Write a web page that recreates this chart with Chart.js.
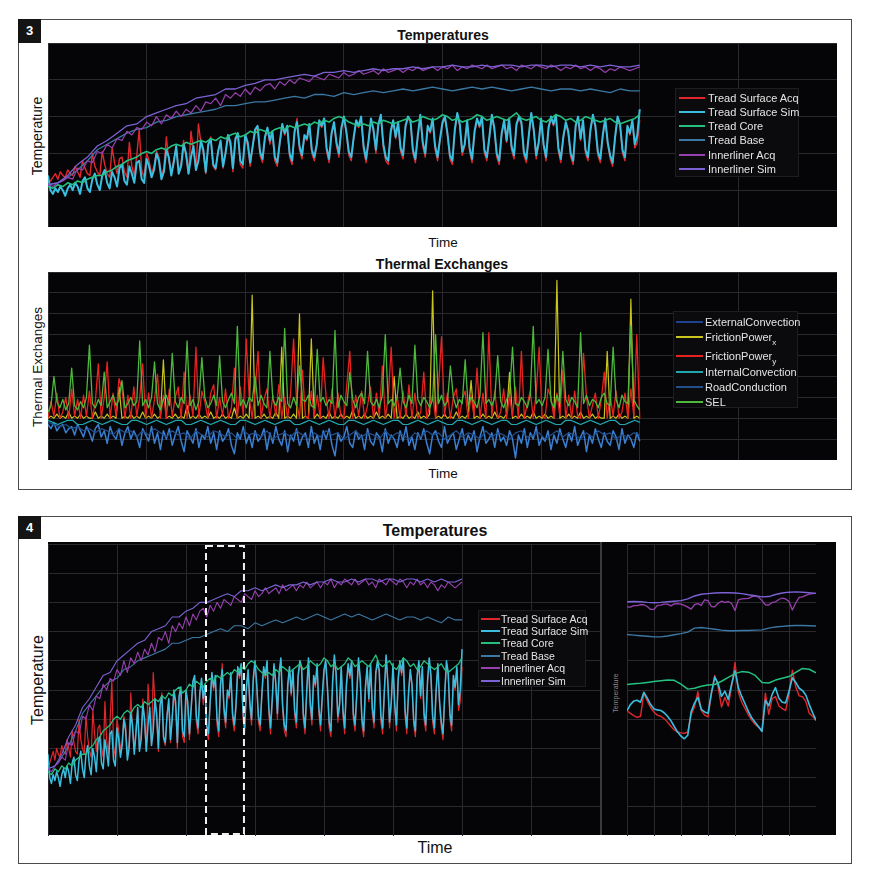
<!DOCTYPE html>
<html>
<head>
<meta charset="utf-8">
<script src="https://cdn.jsdelivr.net/npm/chart.js@4.4.1/dist/chart.umd.min.js"></script>
<style>
	body { margin: 0; background: #fff; font-family: 'Liberation Sans', Arial, sans-serif; }
	#page { position: relative; width: 871px; height: 879px; overflow: hidden; }
	.panel { position: absolute; box-sizing: border-box; border: 1px solid #4a4a4a; }
	.tag { position: absolute; background: #141414; color: #fff; font-weight: bold; font-size: 13px; text-align: center; }
	.dark { position: absolute; background: #050507; }
	canvas { position: absolute; }
	.txt { position: absolute; color: #111; white-space: nowrap; transform: translate(-50%, -50%); }
	.rot { transform: translate(-50%, -50%) rotate(-90deg); }
	.bold { font-weight: bold; }
	.legend { position: absolute; box-sizing: border-box; background: #0b0b0d; border: 1px solid #1e1e22; }
	.lrow { position: absolute; display: flex; align-items: center; color: #e4e4e4; white-space: nowrap; }
	.sw { display: inline-block; height: 2px; flex: none; }
	sub { font-size: 8px; line-height: 0; vertical-align: -4px; }
</style>
</head>
<body>
<div id="page">
	<div class="panel" style="left:18px;top:19px;width:834px;height:471px"></div>
	<div class="tag" style="left:18px;top:19px;width:23px;height:24px;line-height:24px">3</div>

	<div class="txt bold" style="left:443px;top:35px;font-size:14px">Temperatures</div>
	<div class="dark" style="left:48px;top:43px;width:789px;height:184px"></div>
	<canvas id="temps3" width="789" height="184" style="left:48px;top:43px"></canvas>
	<div class="txt" style="left:443px;top:242px;font-size:13.5px">Time</div>
	<div class="txt rot" style="left:37px;top:136px;font-size:14px">Temperature</div>
	<div class="legend" id="leg1" style="left:675px;top:88px;width:124px;height:89px;font-size:11px"></div>

	<div class="txt bold" style="left:442px;top:264px;font-size:14px">Thermal Exchanges</div>
	<div class="dark" style="left:48px;top:272px;width:789px;height:188px"></div>
	<canvas id="thermal" width="789" height="188" style="left:48px;top:272px"></canvas>
	<div class="txt" style="left:443px;top:473px;font-size:13.5px">Time</div>
	<div class="txt rot" style="left:37px;top:367px;font-size:13.5px">Thermal Exchanges</div>
	<div class="legend" id="leg2" style="left:673px;top:311px;width:125px;height:97px;font-size:11px"></div>

	<div class="panel" style="left:18px;top:516px;width:834px;height:348px"></div>
	<div class="tag" style="left:18px;top:516px;width:23px;height:23px;line-height:23px">4</div>
	<div class="txt bold" style="left:435px;top:531px;font-size:16px">Temperatures</div>
	<div class="dark" style="left:48px;top:542px;width:788px;height:293px"></div>
	<canvas id="temps4" width="552" height="292" style="left:48px;top:544px"></canvas>
	<div class="dark" style="left:600px;top:542px;width:2px;height:293px;background:#3a3a3c"></div>
	<canvas id="inset" width="189" height="292" style="left:627px;top:544px"></canvas>
	<div class="txt rot" style="left:615px;top:693px;font-size:7px;color:#8a8a8a">Temperature</div>
	<div class="legend" id="leg3" style="left:478px;top:610px;width:108px;height:77px;font-size:10.5px"></div>
	<div class="txt" style="left:435px;top:848px;font-size:16px">Time</div>
	<div class="txt rot" style="left:38px;top:680px;font-size:16px">Temperature</div>
</div>

<script>
// Temperatures (0-100 scale), time axis 0..6 in plot units
const tempLabels = ['Tread Surface Acq', 'Tread Surface Sim', 'Tread Core', 'Tread Base', 'Innerliner Acq', 'Innerliner Sim']
const tempColors = ['#e0282c', '#3bbfe0', '#25c080', '#3b78a3', '#9840b0', '#7c62d4']

const treadSurfaceAcq = [
	24, 25, 27, 29, 26, 30, 28, 27, 31, 29,
	28, 33, 30, 27, 36, 32, 29, 28, 40, 33,
	30, 28, 41, 34, 29, 27, 43, 35, 29, 37,
	38, 30, 27, 46, 33, 28, 39, 53, 31, 27,
	40, 36, 29, 33, 41, 38, 28, 32, 49, 36,
	29, 37, 43, 30, 35, 47, 38, 29, 52, 42,
	31, 56, 46, 40, 29, 44, 49, 33, 31, 42,
	46, 32, 41, 49, 44, 30, 47, 50, 34, 32,
	49, 44, 33, 43, 52, 54, 39, 35, 48, 53,
	45, 51, 36, 33, 45, 55, 50, 54, 38, 34,
	51, 59, 42, 37, 49, 47, 55, 40, 36, 44,
	57, 54, 58, 41, 35, 50, 56, 44, 38, 53,
	59, 51, 39, 36, 48, 57, 54, 59, 42, 35,
	46, 58, 52, 40, 55, 60, 43, 36, 34, 51,
	57, 48, 56, 41, 37, 54, 59, 57, 40, 35,
	49, 60, 44, 38, 54, 51, 58, 42, 36, 47,
	56, 59, 50, 37, 34, 52, 61, 55, 39, 44,
	57, 41, 35, 51, 58, 54, 59, 40, 36, 48,
	60, 53, 38, 34, 50, 57, 46, 58, 42, 37,
	55, 59, 56, 39, 35, 49, 61, 52, 37, 45,
	58, 44, 36, 53, 59, 55, 60, 41, 35, 48,
	56, 51, 38, 34, 54, 59, 47, 57, 40, 36,
	52, 60, 54, 39, 35, 49, 58, 45, 37, 33,
	48, 59, 55, 40, 36, 54, 50, 57, 43, 46,
	58
]
const treadSurfaceSim = [
	28, 20, 18, 21, 19, 22, 20, 17, 21, 23,
	20, 24, 22, 18, 25, 27, 21, 19, 26, 29,
	23, 20, 28, 31, 24, 21, 30, 27, 22, 32,
	34, 25, 23, 33, 29, 24, 35, 36, 26, 24,
	37, 33, 27, 31, 40, 36, 26, 30, 42, 38,
	28, 35, 44, 29, 33, 45, 40, 29, 38, 44,
	31, 36, 47, 42, 30, 45, 48, 34, 32, 41,
	47, 33, 40, 50, 46, 32, 48, 51, 36, 34,
	50, 46, 35, 44, 53, 55, 41, 37, 49, 54,
	47, 52, 38, 35, 46, 56, 51, 55, 40, 36,
	52, 57, 44, 39, 50, 48, 56, 42, 38, 45,
	58, 55, 59, 43, 37, 51, 57, 46, 40, 54,
	60, 52, 41, 38, 49, 58, 55, 60, 44, 37,
	47, 59, 53, 42, 56, 61, 45, 38, 36, 52,
	58, 49, 57, 43, 39, 55, 60, 58, 42, 37,
	50, 61, 46, 40, 55, 52, 59, 44, 38, 48,
	57, 60, 51, 39, 36, 53, 62, 56, 41, 45,
	58, 43, 37, 52, 59, 55, 60, 42, 38, 49,
	61, 54, 40, 36, 51, 58, 47, 59, 44, 39,
	56, 60, 57, 41, 37, 50, 62, 53, 39, 46,
	59, 45, 38, 54, 60, 56, 61, 43, 37, 49,
	57, 52, 40, 36, 55, 60, 48, 58, 42, 38,
	53, 61, 55, 41, 37, 50, 59, 46, 39, 35,
	49, 60, 56, 42, 38, 55, 51, 58, 45, 50,
	64
]
const treadCore = [
	22, 21, 23, 22, 24, 23, 25, 24, 26, 27,
	28, 28, 30, 31, 33, 34, 36, 37, 38, 40,
	41, 40, 42, 43, 42, 44, 45, 44, 46, 45,
	46, 47, 46, 48, 47, 49, 48, 50, 51, 49,
	50, 52, 51, 53, 52, 51, 53, 54, 53, 55,
	54, 55, 56, 55, 57, 56, 58, 57, 59, 60,
	59, 57, 56, 55, 56, 55, 57, 56, 58, 57,
	56, 57, 58, 59, 57, 58, 60, 59, 58, 59,
	61, 60, 58, 59, 57, 58, 59, 61, 60, 58,
	59, 60, 59, 58, 60, 62, 59, 58, 59, 60,
	58, 57, 59, 61, 60, 58, 59, 57, 58, 60,
	59, 58, 57, 58, 59, 57, 56, 57, 58, 59,
	61
]
const treadBase = [
	23, 24, 27, 31, 36, 42, 45, 48, 51, 53,
	54, 57, 58, 60, 61, 62, 63, 64, 66, 66,
	67, 68, 68, 69, 70, 71, 70, 72, 72, 71,
	73, 72, 73, 74, 73, 74, 75, 74, 75, 76,
	75, 74, 75, 76, 75, 76, 75, 74, 75, 76,
	75, 74, 75, 75, 74, 75, 74, 73, 75, 74,
	74
]
const innerlinerAcq = [
	23, 22, 24, 25, 27, 26, 32, 31, 36, 35,
	41, 40, 45, 43, 48, 47, 52, 50, 54, 53,
	57, 55, 60, 56, 61, 59, 63, 60, 64, 62,
	66, 63, 68, 67, 70, 66, 72, 70, 73, 71,
	75, 72, 76, 74, 77, 78, 75, 79, 77, 80,
	78, 81, 80, 79, 82, 81, 80, 83, 82, 81,
	84, 82, 83, 85, 83, 84, 85, 83, 86, 84,
	85, 86, 84, 86, 85, 87, 85, 86, 87, 85,
	87, 86, 88, 85, 87, 86, 88, 87, 86, 88,
	86, 87, 88, 86, 87, 85, 88, 87, 86, 88,
	87, 86, 88, 87, 85, 87, 86, 88, 86, 87,
	85, 87, 86, 84, 86, 85, 87, 86, 85, 86,
	87
]
const innerlinerSim = [
	23, 24, 28, 34, 38, 44, 47, 51, 55, 56,
	60, 62, 64, 66, 67, 70, 71, 72, 75, 75,
	77, 78, 80, 80, 81, 82, 83, 82, 84, 84,
	85, 84, 85, 86, 85, 86, 86, 87, 86, 87,
	87, 88, 87, 87, 88, 87, 88, 88, 87, 88,
	88, 87, 88, 88, 87, 88, 87, 88, 87, 87,
	88
]
const tempSteps = [0.025, 0.025, 0.05, 0.1, 0.05, 0.1]
const tempSeries = [treadSurfaceAcq, treadSurfaceSim, treadCore, treadBase, innerlinerAcq, innerlinerSim]

// Thermal exchanges (-20..70 scale)
const thermalLabels = ['ExternalConvection', 'FrictionPower<sub>x</sub>', 'FrictionPower<sub>y</sub>', 'InternalConvection', 'RoadConduction', 'SEL']
const thermalColors = ['#3a7fd0', '#c9c41e', '#e8231f', '#1fa7ad', '#234f8c', '#4cb83c']
const thermalSwatch = ['#1f4290', '#c9c41e', '#e8231f', '#1fa7ad', '#234f8c', '#4cb83c']

const externalConvection = [
	-3, -5, -2, -6, -4, -3, -7, -5, -4, -8,
	-3, -6, -9, -4, -7, -11, -5, -3, -9, -6,
	-12, -4, -8, -10, -5, -13, -7, -4, -10, -6,
	-9, -14, -5, -8, -11, -4, -12, -7, -15, -6,
	-10, -5, -13, -8, -4, -11, -16, -6, -9, -12,
	-5, -14, -8, -10, -4, -12, -7, -15, -6, -11,
	-9, -5, -13, -17, -7, -10, -4, -12, -8, -14,
	-6, -11, -9, -5, -15, -7, -12, -4, -10, -13,
	-6, -16, -8, -11, -5, -13, -9, -7, -14, -4,
	-12, -8, -15, -6, -10, -5, -13, -18, -7, -11,
	-9, -4, -12, -14, -6, -10, -8, -15, -5, -11,
	-13, -7, -9, -16, -5, -12, -8, -10, -14, -6,
	-11, -4, -13, -9, -15, -7, -10, -5, -12, -17,
	-8, -6, -11, -14, -4, -12, -9, -7, -15, -10,
	-5, -13, -8, -11, -6, -16, -9, -4, -12, -10,
	-7, -14, -5, -11, -9, -13, -6, -10, -19, -8,
	-12, -5, -14, -7, -10, -4, -13, -9, -11, -6,
	-15, -8, -12, -5, -10, -14, -7, -11, -4, -13,
	-9, -6, -16, -8, -12, -5, -10, -14, -7, -11,
	-13, -6, -9, -15, -5, -12, -8, -10, -14, -7,
	-11
]
const frictionPowerX = [
	0, 1, 0, 2, 0, 1, 0, 3, 0, 1,
	0, 2, 0, 1, 0, 0, 3, 0, 1, 0,
	2, 0, 1, 0, 15, 0, 1, 0, 2, 0,
	1, 0, 3, 0, 1, 0, 2, 0, 1, 28,
	0, 1, 0, 2, 0, 1, 0, 6, 0, 1,
	0, 2, 0, 1, 0, 3, 0, 1, 0, 2,
	0, 1, 0, 5, 0, 1, 0, 2, 0, 59,
	0, 1, 0, 2, 0, 1, 0, 3, 0, 34,
	0, 1, 0, 2, 0, 50, 0, 1, 0, 38,
	0, 2, 0, 1, 0, 3, 0, 1, 0, 2,
	0, 1, 0, 4, 0, 1, 0, 2, 0, 1,
	0, 3, 0, 1, 0, 2, 0, 20, 0, 1,
	0, 2, 0, 1, 0, 3, 0, 1, 0, 2,
	61, 0, 1, 0, 2, 0, 1, 0, 3, 0,
	1, 0, 2, 18, 0, 1, 0, 2, 0, 1,
	0, 3, 0, 1, 0, 2, 22, 0, 1, 0,
	2, 0, 1, 0, 3, 0, 1, 0, 2, 0,
	1, 0, 66, 0, 1, 0, 2, 0, 1, 0,
	3, 0, 1, 0, 2, 0, 1, 0, 0, 32,
	0, 1, 0, 2, 0, 1, 0, 57, 0, 1,
	0
]
const frictionPowerY = [
	0, 8, 1, 12, 0, 3, 10, 0, 14, 1,
	9, 0, 11, 1, 13, 0, 8, 26, 0, 10,
	27, 0, 12, 1, 19, 14, 0, 11, 0, 15,
	1, 10, 26, 0, 12, 0, 9, 21, 0, 11,
	0, 14, 1, 10, 15, 0, 22, 0, 11, 1,
	34, 0, 13, 8, 0, 12, 16, 0, 10, 1,
	14, 0, 5, 24, 0, 15, 1, 38, 10, 0,
	13, 32, 0, 9, 14, 0, 11, 1, 16, 0,
	10, 0, 12, 38, 8, 0, 23, 1, 0, 13,
	1, 11, 0, 29, 10, 0, 14, 0, 12, 1,
	0, 16, 32, 0, 11, 1, 13, 0, 6, 15,
	0, 12, 1, 25, 0, 10, 34, 0, 11, 0,
	13, 1, 16, 0, 12, 0, 3, 22, 0, 6,
	11, 0, 15, 39, 1, 12, 0, 10, 14, 0,
	9, 13, 0, 11, 1, 24, 0, 12, 0, 41,
	1, 13, 0, 3, 14, 0, 11, 1, 15, 0,
	32, 0, 7, 13, 0, 12, 34, 1, 0, 14,
	10, 0, 12, 1, 23, 0, 11, 0, 13, 1,
	0, 31, 10, 0, 6, 12, 0, 9, 22, 0,
	11, 1, 13, 0, 3, 12, 0, 14, 1, 40,
	0
]
const internalConvection = [
	-1, -2, -3, -2, -1, -1, -3, -3, -2, -1,
	-2, -3, -2, -1, -2, -3, -3, -1, -1, -2,
	-3, -2, -1, -2, -3, -2, -1, -1, -3, -3,
	-2, -1, -2, -3, -2, -1, -2, -3, -3, -1,
	-1, -2, -3, -2, -1, -2, -3, -2, -1, -1,
	-3, -3, -2, -1, -2, -3, -2, -1, -2, -3,
	-3, -1, -1, -2, -3, -2, -1, -2, -3, -2,
	-1, -1, -3, -3, -2, -1, -2, -3, -2, -1,
	-2, -3, -3, -1, -1, -2, -3, -2, -1, -2,
	-3, -2, -1, -1, -3, -3, -2, -1, -2, -3,
	-2, -1, -2, -3, -3, -1, -1, -2, -3, -2,
	-1, -2, -3, -2, -1, -1, -3, -3, -2, -1,
	-2
]
const roadConduction = [
	-2, -3, -4, -3, -5, -4, -6, -5, -7, -5,
	-6, -8, -5, -7, -6, -9, -6, -8, -5, -7,
	-9, -6, -8, -7, -10, -6, -8, -9, -6, -7,
	-9, -7, -10, -6, -8, -7, -9, -6, -10, -8,
	-7, -9, -6, -8, -10, -7, -9, -6, -8, -7,
	-10, -8, -6, -9, -7, -8, -10, -6, -9, -7,
	-8, -10, -7, -9, -6, -8, -7, -10, -8, -6,
	-9, -7, -8, -10, -6, -9, -7, -8, -10, -7,
	-6, -9, -8, -7, -10, -8, -6, -9, -7, -8,
	-10, -7, -9, -6, -8, -7, -10, -8, -9, -7,
	-8
]
const sel = [
	3, 6, 20, 8, 5, 9, 4, 7, 24, 6,
	4, 8, 5, 10, 35, 7, 5, 9, 6, 22,
	5, 8, 11, 6, 9, 18, 5, 7, 10, 6,
	8, 37, 6, 9, 5, 10, 27, 7, 4, 9,
	11, 6, 31, 8, 5, 10, 7, 37, 6, 9,
	4, 8, 29, 10, 5, 7, 11, 6, 30, 8,
	5, 9, 12, 7, 44, 6, 9, 5, 10, 8,
	20, 6, 11, 7, 5, 32, 9, 6, 10, 8,
	43, 7, 5, 10, 6, 25, 9, 8, 11, 6,
	5, 33, 8, 10, 6, 9, 7, 42, 5, 11,
	8, 6, 22, 9, 5, 10, 12, 7, 32, 8,
	6, 9, 5, 11, 40, 7, 9, 6, 10, 24,
	8, 5, 11, 7, 35, 9, 6, 10, 8, 5,
	9, 40, 7, 11, 6, 8, 25, 10, 5, 9,
	7, 28, 6, 10, 8, 5, 11, 41, 7, 9,
	6, 10, 30, 8, 5, 9, 12, 34, 7, 6,
	10, 8, 5, 11, 44, 7, 9, 6, 10, 33,
	8, 5, 11, 7, 32, 9, 6, 10, 8, 5,
	41, 7, 11, 6, 9, 8, 5, 10, 12, 7,
	6, 34, 9, 5, 11, 8, 7, 44, 9, 6,
	4
]
const thermalSteps = [0.03, 0.03, 0.03, 0.05, 0.06, 0.03]
const thermalSeries = [externalConvection, frictionPowerX, frictionPowerY, internalConvection, roadConduction, sel]

// Zoomed window (panel 4) and its detail view, inset time axis 0..7
const zoomWindow = [2.29, 2.84]
const insetSurfaceAcq = [
	42.9, 42.0, 41.2, 40.6, 41.0, 49.0, 46.2, 44.0, 42.4, 41.4,
	41.0, 40.2, 39.0, 37.6, 36.3, 35.6, 35.3, 35.2, 35.6, 41.5,
	44.2, 49.4, 43.0, 41.4, 40.8, 48.5, 55.0, 51.0, 44.2, 47.5,
	44.5, 51.2, 59.4, 49.2, 45.8, 43.6, 41.4, 39.6, 38.2, 37.2,
	36.3, 48.9, 41.7, 47.0, 47.7, 44.6, 43.6, 43.0, 48.4, 56.8,
	51.0, 48.0, 47.7, 46.0, 42.0, 41.0, 39.5
]
const insetSurfaceSim = [
	42.9, 45.0, 46.2, 46.5, 45.8, 49.2, 47.2, 45.0, 43.5, 43.2,
	43.0, 42.2, 41.0, 39.5, 37.5, 35.6, 34.2, 33.3, 34.5, 42.5,
	45.5, 47.5, 43.4, 42.5, 42.0, 49.0, 54.4, 52.2, 47.8, 49.6,
	46.8, 52.0, 56.6, 50.8, 47.8, 45.2, 42.6, 40.4, 38.9, 37.4,
	35.8, 46.5, 44.6, 48.5, 50.8, 47.2, 45.8, 45.6, 49.6, 54.2,
	52.6, 50.6, 49.8, 48.2, 45.0, 42.2, 39.7
]
const insetCore = [
	51.9, 52.1, 52.3, 52.6, 52.9, 53.2, 53.4, 53.3, 52.0, 50.3,
	50.6, 51.3, 51.7, 51.9, 53.0, 54.3, 55.6, 56.3, 56.1, 55.0,
	52.6, 52.4, 53.4, 54.0, 54.6, 56.0, 57.4, 57.1, 55.9
]
const insetBase = [
	69.0, 68.8, 68.6, 68.4, 68.2, 68.2, 68.5, 68.9, 69.3, 69.8,
	71.2, 71.4, 71.1, 70.8, 70.5, 70.3, 70.3, 70.4, 70.4, 70.5,
	70.6, 71.2, 71.6, 71.8, 72.0, 72.1, 72.1, 72.0, 71.9
]
const insetInnerAcq = [
	78.5, 78.4, 78.9, 78.9, 79.2, 79.2, 78.6, 77.6, 77.6, 79.0,
	79.1, 79.4, 79.4, 78.8, 79.5, 79.6, 79.4, 79.0, 78.4, 77.7,
	79.2, 79.6, 79.0, 80.9, 80.6, 78.6, 78.5, 79.7, 80.4, 80.0,
	80.3, 79.6, 77.2, 80.9, 81.2, 81.3, 81.4, 82.0, 82.2, 81.8,
	80.6, 79.2, 79.1, 80.0, 80.2, 81.0, 81.5, 81.2, 80.3, 77.4,
	79.8, 81.7, 81.9, 82.4, 82.8, 83.0, 83.1
]
const insetInnerSim = [
	80.2, 80.3, 80.2, 80.0, 79.9, 80.0, 80.2, 80.4, 80.6, 81.2,
	82.2, 82.8, 83.0, 83.2, 83.3, 83.3, 83.2, 83.0, 82.6, 82.3,
	81.9, 82.0, 82.7, 83.2, 83.5, 83.6, 83.5, 83.3, 83.1
]
const insetSteps = [0.125, 0.125, 0.25, 0.25, 0.125, 0.25]
const insetSeries = [insetSurfaceAcq, insetSurfaceSim, insetCore, insetBase, insetInnerAcq, insetInnerSim]

const points = (values, step) => values.map((v, i) => ({ x: i * step, y: v }))

function makeDatasets(series, steps, colors, widths) {
	return series.map((vals, i) => ({
		data: points(vals, steps[i]),
		borderColor: colors[i],
		borderWidth: widths[i],
		order: series.length - i
	}))
}

const gridColor = '#29292e'

function lineChart(id, datasets, xMax, yMin, yMax, yStep, plugins = []) {
	return new Chart(document.getElementById(id), {
		type: 'line',
		data: { datasets },
		plugins,
		options: {
			responsive: false,
			animation: false,
			events: [],
			devicePixelRatio: 1,
			layout: { padding: 0, autoPadding: false },
			elements: {
				point: { radius: 0, hoverRadius: 0 },
				line: { tension: 0, borderJoinStyle: 'round', fill: false }
			},
			plugins: { legend: { display: false }, tooltip: { enabled: false } },
			scales: {
				x: {
					type: 'linear', min: 0, max: xMax,
					ticks: { display: false, stepSize: 1 },
					grid: { color: gridColor, drawTicks: false },
					border: { display: false }
				},
				y: {
					type: 'linear', min: yMin, max: yMax,
					ticks: { display: false, stepSize: yStep },
					grid: { color: gridColor, drawTicks: false },
					border: { display: false }
				}
			}
		}
	})
}

const windowPlugin = {
	id: 'zoomWindow',
	afterDatasetsDraw(chart) {
		const { ctx, chartArea, scales } = chart
		const x0 = scales.x.getPixelForValue(zoomWindow[0])
		const x1 = scales.x.getPixelForValue(zoomWindow[1])
		ctx.save()
		ctx.strokeStyle = '#f0f0f0'
		ctx.lineWidth = 2
		ctx.setLineDash([7, 4])
		ctx.strokeRect(x0, chartArea.top + 2, x1 - x0, chartArea.bottom - chartArea.top - 4)
		ctx.restore()
	}
}

lineChart('temps3', makeDatasets(tempSeries, tempSteps, tempColors, [1.4, 2, 1.6, 1.3, 1.2, 1.3]), 8, 0, 100, 20)
lineChart('thermal', makeDatasets(thermalSeries, thermalSteps, thermalColors, [1.5, 1.2, 1.3, 1.2, 1.2, 1.3]), 8, -20, 70, 10)
lineChart('temps4', makeDatasets(tempSeries, tempSteps, tempColors, [1.2, 1.5, 1.3, 1.1, 1.1, 1.1]), 8, 0, 100, 10, [windowPlugin])
lineChart('inset', makeDatasets(insetSeries, insetSteps, tempColors, [1.4, 1.6, 1.5, 1.4, 1.3, 1.4]), 7, 0, 100, 10)

function buildLegend(id, labels, colors, centers, rowH, swLeft, swW, gap) {
	const box = document.getElementById(id)
	labels.forEach((lab, i) => {
		const row = document.createElement('div')
		row.className = 'lrow'
		row.style.left = swLeft + 'px'
		row.style.top = Math.round(centers[i] - rowH / 2) + 'px'
		row.style.height = rowH + 'px'
		row.innerHTML = `<span class="sw" style="background:${colors[i]};width:${swW}px;margin-right:${gap}px"></span><span>${lab}</span>`
		box.appendChild(row)
	})
}

buildLegend('leg1', tempLabels, tempColors, [9, 23, 37, 51, 66, 80], 14, 3, 26, 3)
buildLegend('leg2', thermalLabels, thermalSwatch, [10, 25, 44, 60, 75, 90], 14, 2, 27, 2)
buildLegend('leg3', tempLabels, tempColors, [8, 20, 32, 45, 57, 70], 12, 2, 19, 1)
</script>
</body>
</html>
